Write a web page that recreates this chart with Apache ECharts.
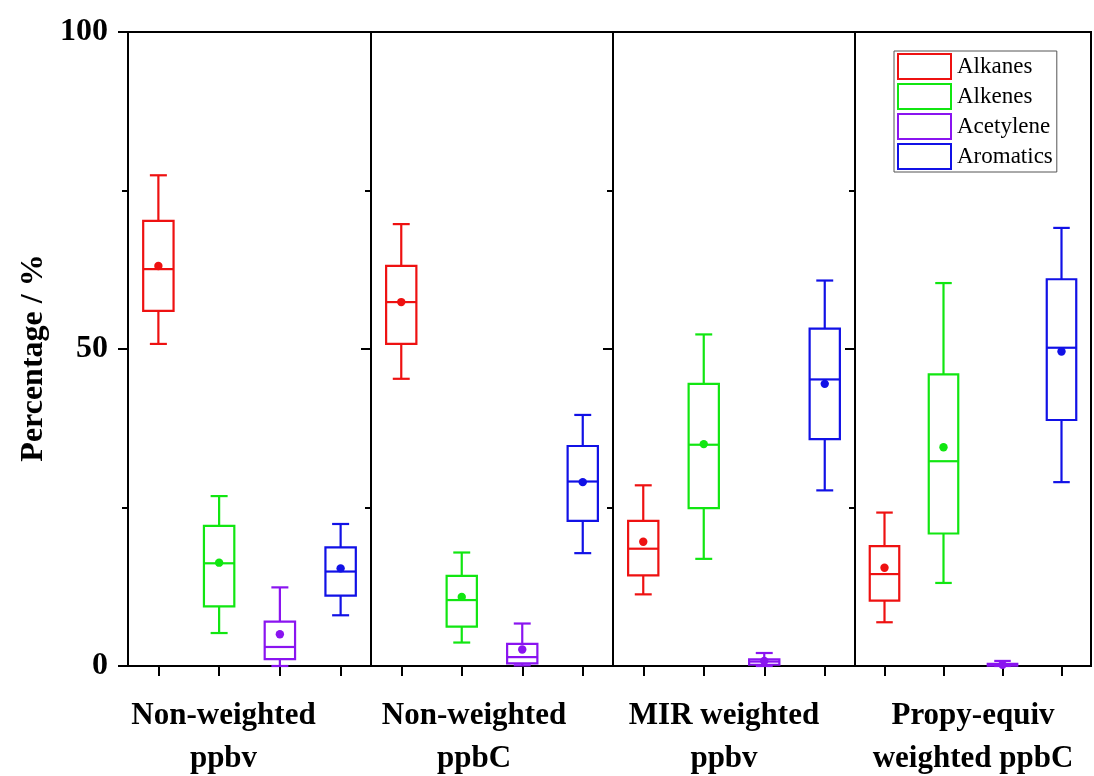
<!DOCTYPE html>
<html>
<head>
<meta charset="utf-8">
<script src="https://cdn.jsdelivr.net/npm/echarts@6/dist/echarts.min.js"></script>
<style>
  html, body { margin: 0; padding: 0; background: #fff; }
  #chart { width: 1094px; height: 776px; }
</style>
</head>
<body>
<div id="chart"></div>
<script>
// ---- data ----
const groups = ['Non-weighted\nppbv', 'Non-weighted\nppbC', 'MIR weighted\nppbv', 'Propy-equiv\nweighted ppbC'];
const classes = ['Alkanes', 'Alkenes', 'Acetylene', 'Aromatics'];
const yTicks = [0, 50, 100];
// each row: [min, q1, median, q3, max, mean] per group
const alkanes = [
  [50.8, 56.0, 62.6, 70.2, 77.4, 63.1],
  [45.3, 50.8, 57.4, 63.1, 69.7, 57.4],
  [11.3, 14.3, 18.5, 22.9, 28.5, 19.6],
  [6.9, 10.3, 14.5, 18.9, 24.2, 15.5]
];
const alkenes = [
  [5.2, 9.4, 16.2, 22.1, 26.8, 16.3],
  [3.7, 6.2, 10.4, 14.2, 17.9, 10.9],
  [16.9, 24.9, 34.9, 44.5, 52.3, 35.0],
  [13.1, 20.9, 32.3, 46.0, 60.4, 34.5]
];
const acetylene = [
  [0.0, 1.1, 3.0, 7.0, 12.4, 5.0],
  [0.1, 0.4, 1.4, 3.5, 6.7, 2.6],
  [0.0, 0.2, 0.7, 1.05, 2.05, 0.8],
  [0.0, 0.05, 0.2, 0.35, 0.8, 0.2]
];
const aromatics = [
  [8.0, 11.1, 14.9, 18.7, 22.4, 15.4],
  [17.8, 22.9, 29.1, 34.7, 39.6, 29.0],
  [27.7, 35.8, 45.2, 53.2, 60.8, 44.5],
  [29.0, 38.8, 50.2, 61.0, 69.1, 49.6]
];
const classData = [alkanes, alkenes, acetylene, aromatics];
const colors = ['#ee1111', '#11e611', '#8a14f0', '#1111e6'];

// ---- layout ----
const gridBoxes = [
  { left: 128, width: 243 },
  { left: 371, width: 242 },
  { left: 613, width: 242 },
  { left: 855, width: 236 }
];
const nameShift = [52, 36, 20, 0];
const serif = "'Liberation Serif', 'Times New Roman', serif";

const grids = gridBoxes.map(g => ({
  left: g.left, width: g.width, top: 32, height: 634,
  outerBoundsMode: 'none', containLabel: false,
  show: true, borderColor: '#000', borderWidth: 2
}));

const xAxes = groups.map((name, gi) => ({
  type: 'category', gridIndex: gi, data: classes,
  boundaryGap: true,
  axisLine: { show: true, lineStyle: { color: '#000', width: 2 } },
  axisTick: { show: true, interval: 0, alignWithLabel: true, length: 10, lineStyle: { color: '#000', width: 2 } },
  axisLabel: { show: false, interval: 0 },
  name: name, nameLocation: 'middle', nameGap: 28,
  nameTextStyle: {
    fontFamily: serif, fontWeight: 'bold', fontSize: 31, color: '#000',
    lineHeight: 43, padding: [0, nameShift[gi], 0, 0]
  }
}));

const yAxes = groups.map((_, gi) => ({
  type: 'value', gridIndex: gi, min: 0, max: 100, interval: 50,
  axisLine: { show: true, lineStyle: { color: '#000', width: 2 } },
  axisTick: { show: true, length: 10, lineStyle: { color: '#000', width: 2 } },
  minorTick: { show: true, splitNumber: 2, length: 6, lineStyle: { color: '#000', width: 2 } },
  splitLine: { show: false },
  minorSplitLine: { show: false },
  axisLabel: {
    show: gi === 0, margin: 20, fontFamily: serif, fontWeight: 'bold', fontSize: 32, color: '#000',
    formatter: v => (yTicks.indexOf(v) >= 0 ? String(v) : '')
  },
  name: gi === 0 ? 'Percentage / %' : '',
  nameLocation: 'middle', nameGap: 78,
  nameTextStyle: { fontFamily: serif, fontWeight: 'bold', fontSize: 32, color: '#000', padding: [0, 18, 0, 0] }
}));

function renderBox(params, api) {
  const x = api.value(0);
  const pMin = api.coord([x, api.value(1)]);
  const pQ1 = api.coord([x, api.value(2)]);
  const pMed = api.coord([x, api.value(3)]);
  const pQ3 = api.coord([x, api.value(4)]);
  const pMax = api.coord([x, api.value(5)]);
  const pMean = api.coord([x, api.value(6)]);
  const band = api.size([1, 0])[0];
  const bw = band * 0.5;
  const cw = band * 0.28;
  const cx = pMed[0];
  const color = api.visual('color');
  const ls = { stroke: color, lineWidth: 2.2, fill: null };
  return {
    type: 'group',
    children: [
      { type: 'line', shape: { x1: cx, y1: pQ3[1], x2: cx, y2: pMax[1] }, style: ls },
      { type: 'line', shape: { x1: cx, y1: pQ1[1], x2: cx, y2: pMin[1] }, style: ls },
      { type: 'line', shape: { x1: cx - cw / 2, y1: pMax[1], x2: cx + cw / 2, y2: pMax[1] }, style: ls },
      { type: 'line', shape: { x1: cx - cw / 2, y1: pMin[1], x2: cx + cw / 2, y2: pMin[1] }, style: ls },
      { type: 'rect', shape: { x: cx - bw / 2, y: pQ3[1], width: bw, height: pQ1[1] - pQ3[1] }, style: { stroke: color, lineWidth: 2.2, fill: '#fff' } },
      { type: 'line', shape: { x1: cx - bw / 2, y1: pMed[1], x2: cx + bw / 2, y2: pMed[1] }, style: ls },
      { type: 'circle', shape: { cx: cx, cy: pMean[1], r: 4.2 }, style: { fill: color, stroke: null } }
    ]
  };
}

const series = [];
groups.forEach((_, gi) => {
  classes.forEach((cls, ci) => {
    const s = classData[ci][gi];
    series.push({
      type: 'custom', name: cls, xAxisIndex: gi, yAxisIndex: gi,
      itemStyle: { color: colors[ci] },
      renderItem: renderBox,
      encode: { x: 0, y: [1, 2, 3, 4, 5, 6] },
      data: [[ci, s[0], s[1], s[2], s[3], s[4], s[5]]],
      silent: true, animation: false
    });
  });
});

const chart = echarts.init(document.getElementById('chart'), null, { renderer: 'canvas' });
chart.setOption({
  animation: false,
  backgroundColor: '#fff',
  grid: grids,
  xAxis: xAxes,
  yAxis: yAxes,
  legend: {
    orient: 'vertical', left: 894, top: 51,
    icon: 'rect', itemWidth: 53, itemHeight: 25, itemGap: 3,
    padding: [2, 4, 2, 3],
    borderColor: '#555', borderWidth: 1,
    textStyle: { fontFamily: serif, fontSize: 23, color: '#000', padding: [0, 0, 0, 1] },
    data: classes.map((c, i) => ({
      name: c,
      itemStyle: { color: '#fff', borderColor: colors[i], borderWidth: 2 }
    }))
  },
  series: series
});
</script>
</body>
</html>
